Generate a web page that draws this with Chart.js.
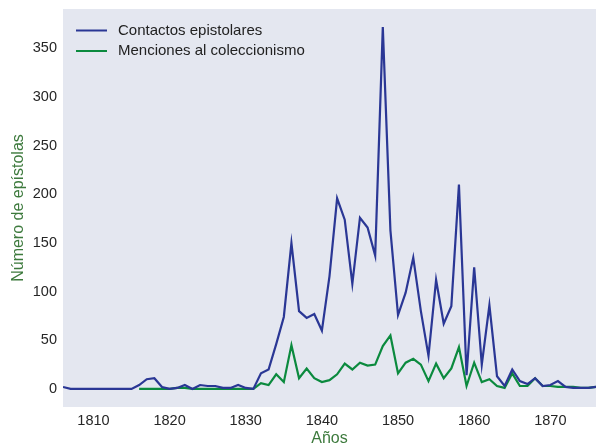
<!DOCTYPE html>
<html lang="es">
<head>
<meta charset="utf-8">
<title>Contactos epistolares</title>
<script src="https://cdn.jsdelivr.net/npm/chart.js@4"></script>
<style>
    html, body { margin: 0; padding: 0; background: #ffffff; }
    #wrap { width: 596px; height: 444px; }
</style>
</head>
<body>
<div id="wrap"><canvas id="grafico" width="596" height="444"></canvas></div>
<script>
// Datos
const anios = [1806, 1807, 1808, 1809, 1810, 1811, 1812, 1813, 1814, 1815,
    1816, 1817, 1818, 1819, 1820, 1821, 1822, 1823, 1824, 1825,
    1826, 1827, 1828, 1829, 1830, 1831, 1832, 1833, 1834, 1835,
    1836, 1837, 1838, 1839, 1840, 1841, 1842, 1843, 1844, 1845,
    1846, 1847, 1848, 1849, 1850, 1851, 1852, 1853, 1854, 1855,
    1856, 1857, 1858, 1859, 1860, 1861, 1862, 1863, 1864, 1865,
    1866, 1867, 1868, 1869, 1870, 1871, 1872, 1873, 1874, 1875, 1876];

const contactos = [2, 0, 0, 0, 0, 0, 0, 0, 0, 0,
    4, 10, 11, 2, 0, 1, 4, 0, 4, 3,
    3, 1, 1, 4, 1, 0, 16, 20, 46, 74,
    150, 80, 73, 77, 60, 116, 196, 174, 108, 176,
    166, 137, 372, 163, 76, 99, 135, 80, 34, 112,
    67, 85, 210, 14, 125, 25, 86, 13, 3, 20,
    8, 5, 11, 3, 4, 8, 2, 1, 1, 1, 2];

const menciones = [null, null, null, null, null, null, null, null, null, null,
    0, 0, 0, 0, 0, 1, 1, 0, 0, 0,
    0, 0, 0, 0, 0, 0, 6, 4, 15, 7,
    45, 11, 21, 11, 7, 9, 15, 26, 20, 27,
    24, 25, 44, 55, 16, 27, 31, 25, 8, 26,
    11, 21, 43, 3, 27, 7, 10, 3, 1, 16,
    3, 3, 11, 3, 3, 2, 2, 2, 1, 1, 2];

const ticksX = [1810, 1820, 1830, 1840, 1850, 1860, 1870];
const ticksY = [0, 50, 100, 150, 200, 250, 300, 350];

const azul = '#2a3795';
const verde = '#0b8a3e';
const verdeTitulo = '#3d7a3d';
const fuente = "'Liberation Sans', Arial, sans-serif";

function puntos(valores) {
    return anios.map((a, i) => ({ x: a, y: valores[i] }));
}

// Fondo del área de trazado
const fondo = {
    id: 'fondo',
    beforeDraw(chart) {
        const { ctx, chartArea } = chart;
        ctx.save();
        ctx.fillStyle = '#e4e7f0';
        ctx.fillRect(chartArea.left, chartArea.top, chartArea.right - chartArea.left, chartArea.bottom - chartArea.top);
        ctx.restore();
    }
};

// Leyenda dentro del gráfico, arriba a la izquierda
const leyenda = {
    id: 'leyenda',
    afterDraw(chart) {
        const { ctx, chartArea } = chart;
        ctx.save();
        ctx.font = '15px ' + fuente;
        ctx.textBaseline = 'middle';
        chart.data.datasets.forEach((ds, i) => {
            const y = chartArea.top + 21.5 + i * 20.5;
            const x = chartArea.left + 13;
            ctx.strokeStyle = ds.borderColor;
            ctx.lineWidth = 2;
            ctx.beginPath();
            ctx.moveTo(x, y);
            ctx.lineTo(x + 31, y);
            ctx.stroke();
            ctx.fillStyle = '#222222';
            ctx.fillText(ds.label, x + 42, y);
        });
        ctx.restore();
    }
};

const ctx = document.getElementById('grafico').getContext('2d');
const grafico = new Chart(ctx, {
    type: 'line',
    data: {
        datasets: [{
            label: 'Contactos epistolares',
            data: puntos(contactos),
            borderColor: azul,
            borderWidth: 2.2,
            pointRadius: 0,
            tension: 0
        }, {
            label: 'Menciones al coleccionismo',
            data: puntos(menciones),
            borderColor: verde,
            borderWidth: 2.2,
            pointRadius: 0,
            tension: 0
        }]
    },
    options: {
        responsive: false,
        animation: false,
        layout: { padding: { top: 9, right: 0, left: 0, bottom: 0 } },
        plugins: {
            legend: { display: false },
            tooltip: { enabled: false }
        },
        scales: {
            x: {
                type: 'linear',
                min: 1806,
                max: 1876,
                grid: { display: false, drawTicks: false },
                border: { display: false },
                afterBuildTicks: (axis) => { axis.ticks = ticksX.map(v => ({ value: v })); },
                afterFit: (axis) => {
                    axis.height = 37;
                    axis.paddingLeft = 0;
                    axis.paddingRight = 0;
                },
                ticks: {
                    color: '#262626',
                    padding: 5,
                    font: { family: fuente, size: 14.5 },
                    callback: (v) => String(v)
                },
                title: {
                    display: true,
                    text: 'Años',
                    color: verdeTitulo,
                    padding: 0,
                    font: { family: fuente, size: 16, lineHeight: 0.7 }
                }
            },
            y: {
                min: -18.6,
                max: 390.6,
                grid: { display: false, drawTicks: false },
                border: { display: false },
                afterBuildTicks: (axis) => { axis.ticks = ticksY.map(v => ({ value: v })); },
                afterFit: (axis) => {
                    axis.width = 63;
                    axis.paddingTop = 0;
                    axis.paddingBottom = 0;
                },
                ticks: {
                    color: '#262626',
                    padding: 6,
                    font: { family: fuente, size: 14.5 },
                    callback: (v) => String(v)
                },
                title: {
                    display: true,
                    text: 'Número de epístolas',
                    color: verdeTitulo,
                    padding: { top: 9, bottom: 0 },
                    font: { family: fuente, size: 16, lineHeight: 1.2 }
                }
            }
        }
    },
    plugins: [fondo, leyenda]
});
</script>
</body>
</html>
